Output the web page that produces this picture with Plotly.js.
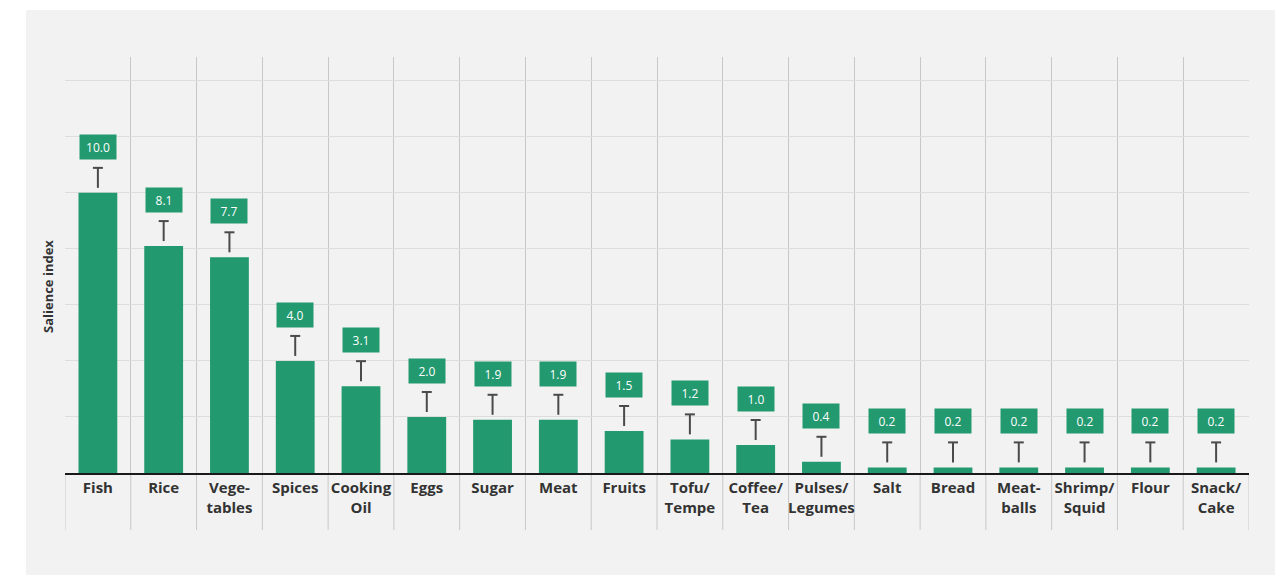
<!DOCTYPE html>
<html>
<head>
<meta charset="utf-8">
<script src="https://cdn.plot.ly/plotly-3.0.1.min.js"></script>
<style>
  html, body { margin: 0; padding: 0; background: #ffffff; }
  #chart { position: absolute; left: 26px; top: 10px; width: 1249px; height: 565px; }
</style>
</head>
<body>
<div id="chart"></div>
<script>
// ---- data ----
const categories = ["Fish", "Rice", "Vege-<br>tables", "Spices", "Cooking<br>Oil", "Eggs", "Sugar", "Meat",
  "Fruits", "Tofu/<br>Tempe", "Coffee/<br>Tea", "Pulses/<br>Legumes", "Salt", "Bread", "Meat-<br>balls",
  "Shrimp/<br>Squid", "Flour", "Snack/<br>Cake"];
const salience = [10.0, 8.1, 7.7, 4.0, 3.1, 2.0, 1.9, 1.9, 1.5, 1.2, 1.0, 0.4, 0.2, 0.2, 0.2, 0.2, 0.2, 0.2];
const yTitle = "Salience index";

// ---- styling ----
const green = "#22996e";
const W = 1249, H = 565;
const margin = { l: 39, r: 26, t: 47, b: 102 };
const yMax = 14.85;
const plotH = H - margin.t - margin.b;
const pxPerUnit = plotH / yMax;
const gapUnits = 5 / pxPerUnit;     // gap between bar top and the T marker
const stemPx = 20;
const capPx = 10;
const stemUnits = stemPx / pxPerUnit;
const SYM = 1.4;                    // plotly line-symbol length factor

const bars = {
  type: "bar",
  x: categories,
  y: salience,
  marker: { color: green, line: { width: 0 } },
  hoverinfo: "x+y"
};

// T marker: vertical stem
const stems = {
  type: "scatter",
  mode: "markers",
  x: categories,
  y: salience.map(v => v + gapUnits + stemUnits / 2),
  marker: { symbol: "line-ns", size: stemPx / SYM, line: { color: "#4a4a4a", width: 2 } },
  hoverinfo: "skip"
};
// T marker: cap
const caps = {
  type: "scatter",
  mode: "markers",
  x: categories,
  y: salience.map(v => v + gapUnits + stemUnits),
  marker: { symbol: "line-ew", size: capPx / SYM, line: { color: "#4a4a4a", width: 2 } },
  hoverinfo: "skip"
};

const annotations = salience.map((v, i) => ({
  x: categories[i], y: v, xref: "x", yref: "y",
  yanchor: "bottom", yshift: 33, showarrow: false,
  text: v.toFixed(1),
  font: { family: "Open Sans, sans-serif", size: 12, color: "#ffffff" },
  bgcolor: green, width: 34, height: 22, borderpad: 1
}));
annotations.push({
  xref: "paper", yref: "paper", x: 0, xshift: -17, y: (186 / plotH),
  xanchor: "center", yanchor: "middle", textangle: -90, showarrow: false,
  text: "<b>" + yTitle + "</b>",
  font: { family: "Open Sans, sans-serif", size: 13, color: "#333333" }
});

const shapes = [];
for (let i = 0; i <= categories.length; i++) {
  shapes.push({
    type: "line", xref: "x", yref: "paper",
    x0: i - 0.5, x1: i - 0.5, y0: -57 / plotH, y1: 0,
    line: { color: "#c8c8c8", width: 1 }, layer: "below"
  });
}

const layout = {
  width: W, height: H,
  margin: margin,
  paper_bgcolor: "#f2f2f2",
  plot_bgcolor: "#f2f2f2",
  showlegend: false,
  bargap: 0.41,
  font: { family: "Open Sans, sans-serif", color: "#333333" },
  xaxis: {
    type: "category",
    tickson: "boundaries",
    tickangle: 0,
    showgrid: true, gridcolor: "#c8c8c8", gridwidth: 1,
    ticks: "", showline: true, linecolor: "#1a1a1a", linewidth: 2,
    tickfont: { family: "Open Sans, sans-serif", size: 15, color: "#333333", weight: 700 },
    range: [-0.5, categories.length - 0.5],
    fixedrange: true
  },
  yaxis: {
    range: [0, yMax], dtick: 2, tick0: 0,
    showgrid: true, gridcolor: "#dddddd", gridwidth: 1,
    zeroline: false, showticklabels: false, ticks: "",
    fixedrange: true
  },
  annotations: annotations,
  shapes: shapes
};

Plotly.newPlot("chart", [bars, stems, caps], layout, { displayModeBar: false, staticPlot: true });
</script>
</body>
</html>
